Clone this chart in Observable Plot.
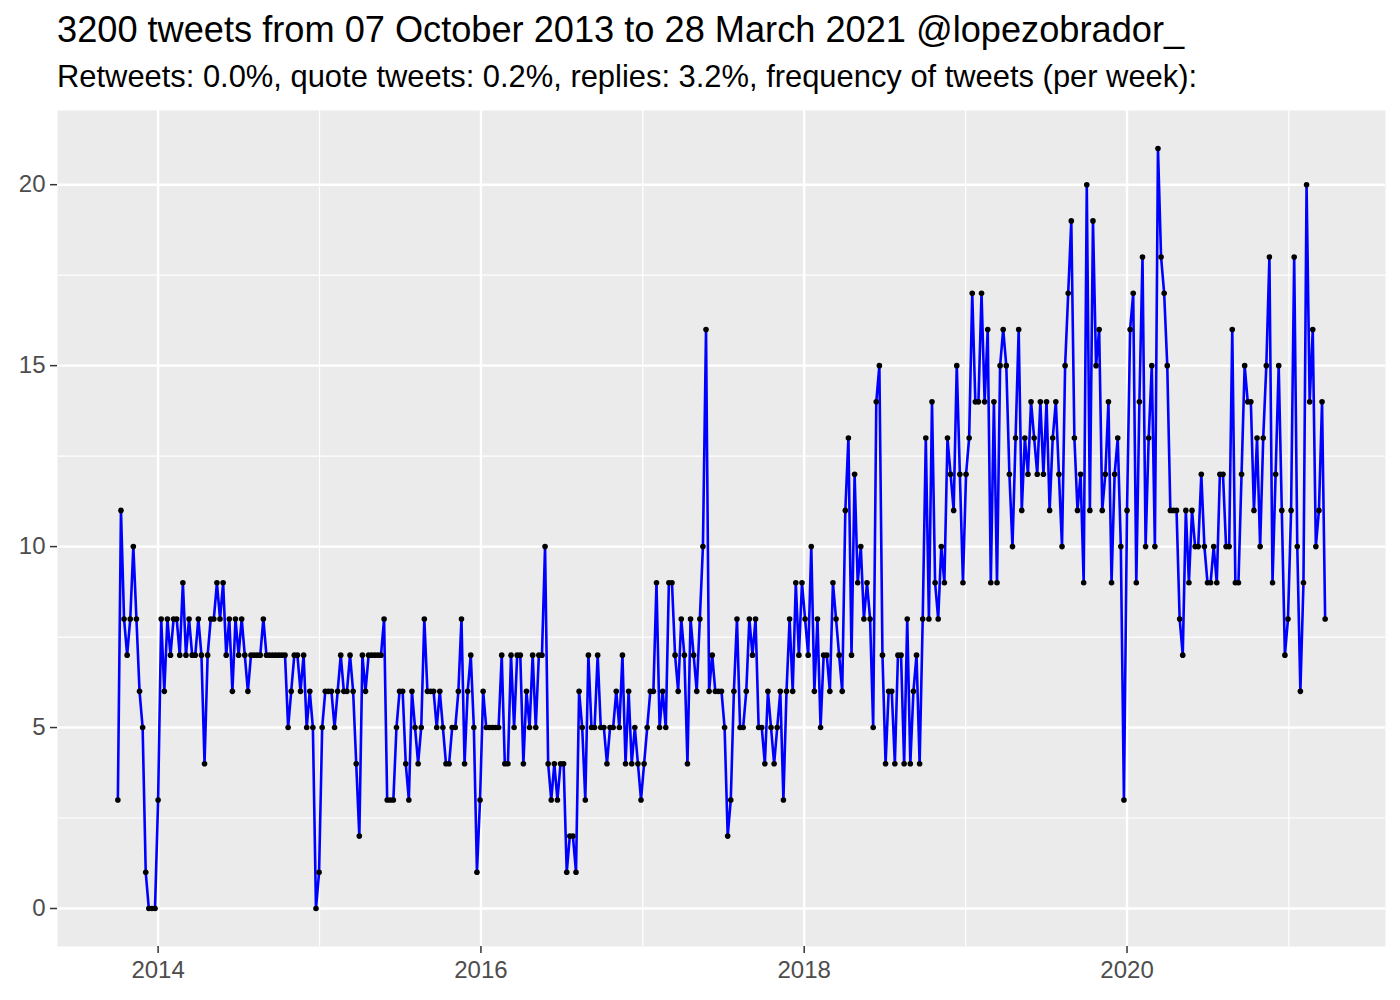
<!DOCTYPE html>
<html>
<head>
<meta charset="utf-8">
<script src="https://cdn.jsdelivr.net/npm/d3@7"></script>
<script src="https://cdn.jsdelivr.net/npm/@observablehq/plot@0.6"></script>
<style>
  body { margin: 0; background: #ffffff; font-family: "Liberation Sans", Arial, Helvetica, sans-serif; }
  #header { position: relative; width: 1400px; height: 100px; }
  #title { position: absolute; left: 57px; top: 12px; font-size: 36.2px; line-height: 1; white-space: nowrap; color: #000; }
  #subtitle { position: absolute; left: 57px; top: 62px; font-size: 30.9px; line-height: 1; white-space: nowrap; color: #000; }
  #chart svg { display: block; }
</style>
</head>
<body>
<div id="header">
  <div id="title">3200 tweets from 07 October 2013 to 28 March 2021 @lopezobrador_</div>
  <div id="subtitle">Retweets: 0.0%, quote tweets: 0.2%, replies: 3.2%, frequency of tweets (per week):</div>
</div>
<div id="chart"></div>
<script>
// First weekly bin and weekly tweet counts
const firstWeek = "2013-10-02";
const weeklyCounts = [
  3, 11, 8, 7, 8, 10, 8, 6, 5, 1, 0, 0, 0,
  3, 8, 6, 8, 7, 8, 8, 7, 9, 7, 8, 7, 7, 8, 7, 4, 7, 8,
  8, 9, 8, 9, 7, 8, 6, 8, 7, 8, 7, 6, 7, 7, 7, 7, 8, 7, 7, 7, 7, 7, 7, 7, 5, 6, 7, 7, 6, 7, 5, 6, 5,
  0, 1, 5, 6, 6, 6, 5, 6, 7, 6, 6, 7, 6, 4, 2, 7, 6, 7, 7, 7, 7, 7, 8, 3, 3, 3, 5, 6, 6, 4, 3, 6, 5,
  4, 5, 8, 6, 6, 6, 5, 6, 5, 4, 4, 5, 5, 6, 8, 4, 6, 7, 5, 1, 3, 6, 5, 5, 5, 5, 5, 7, 4, 4, 7, 5, 7,
  7, 4, 6, 5, 7, 5, 7, 7, 10, 4, 3, 4, 3, 4, 4, 1, 2, 2, 1, 6, 5, 3, 7, 5, 5, 7, 5, 5, 4, 5, 5, 6, 5,
  7, 4, 6, 4, 5, 4, 3, 4, 5, 6, 6, 9, 5, 6, 5, 9, 9, 7, 6, 8, 7, 4, 8, 7, 6, 8, 10, 16, 6, 7, 6, 6, 6,
  5, 2, 3, 6, 8, 5, 5, 6, 8, 7, 8, 5, 5, 4, 6, 5, 4, 5, 6, 3, 6, 8, 6, 9, 7, 9, 8, 7, 10, 6, 8, 5, 7,
  7, 6, 9, 8, 7, 6, 11, 13, 7, 12, 9, 10, 8, 9, 8, 5, 14, 15, 7, 4, 6, 6, 4, 7, 7, 4, 8, 4, 6, 7, 4, 8, 13,
  8, 14, 9, 8, 10, 9, 13, 12, 11, 15, 12, 9, 12, 13, 17, 14, 14, 17, 14, 16, 9, 14, 9, 15, 16, 15, 12, 10, 13, 16, 11, 13, 12,
  14, 13, 12, 14, 12, 14, 11, 13, 14, 12, 10, 15, 17, 19, 13, 11, 12, 9, 20, 11, 19, 15, 16, 11, 12, 14, 9, 12, 13, 10, 3, 11, 16,
  17, 9, 14, 18, 10, 13, 15, 10, 21, 18, 17, 15, 11, 11, 11, 8, 7, 11, 9, 11, 10, 10, 12, 10, 9, 9, 10, 9, 12, 12, 10, 10, 16,
  9, 9, 12, 15, 14, 14, 11, 13, 10, 13, 15, 18, 9, 12, 15, 11, 7, 8, 11, 18, 10, 6, 9, 20, 14, 16, 10, 11, 14, 8
];
const yMajorTicks = [0, 5, 10, 15, 20];
const yMinorTicks = [2.5, 7.5, 12.5, 17.5];
const xMajorYears = ["2014", "2016", "2018", "2020"];
const xMinorYears = ["2015", "2017", "2019", "2021"];

const start = d3.utcParse("%Y-%m-%d")(firstWeek);
const data = weeklyCounts.map((n, i) => ({ date: d3.utcDay.offset(start, 7 * i), n }));
const parseYear = d3.utcParse("%Y");
const xMajor = xMajorYears.map(parseYear);
const xMinor = xMinorYears.map(parseYear);

// ggplot-style 5% expansion
const [x0, x1] = d3.extent(data, d => d.date);
const span = x1 - x0;
const xDomain = [new Date(+x0 - 0.05 * span), new Date(+x1 + 0.05 * span)];
const [y0, y1] = d3.extent(data, d => d.n);
const ySpan = y1 - y0;
const yDomain = [y0 - 0.05 * ySpan, y1 + 0.05 * ySpan];

const chart = Plot.plot({
  width: 1400,
  height: 900,
  marginTop: 10,
  marginBottom: 54,
  marginLeft: 57,
  marginRight: 15,
  style: { fontFamily: '"Liberation Sans", Arial, Helvetica, sans-serif', background: "#ffffff" },
  x: { type: "utc", domain: xDomain },
  y: { domain: yDomain },
  marks: [
    Plot.frame({ fill: "#EBEBEB", stroke: "none" }),
    Plot.gridY({ ticks: yMinorTicks, stroke: "#ffffff", strokeOpacity: 1, strokeWidth: 1.2 }),
    Plot.gridX({ ticks: xMinor, stroke: "#ffffff", strokeOpacity: 1, strokeWidth: 1.2 }),
    Plot.gridY({ ticks: yMajorTicks, stroke: "#ffffff", strokeOpacity: 1, strokeWidth: 2.4 }),
    Plot.gridX({ ticks: xMajor, stroke: "#ffffff", strokeOpacity: 1, strokeWidth: 2.4 }),
    Plot.line(data, { x: "date", y: "n", stroke: "#0000FF", strokeWidth: 2.6 }),
    Plot.dot(data, { x: "date", y: "n", r: 2.8, fill: "#000000", stroke: "none" }),
    Plot.axisY({ ticks: yMajorTicks, tickSize: 7, tickPadding: 5, fontSize: 24, stroke: "#333333", fill: "#4D4D4D", strokeWidth: 1.5, label: null }),
    Plot.axisX({ ticks: xMajor, tickSize: 7, tickPadding: 7, fontSize: 24, stroke: "#333333", fill: "#4D4D4D", strokeWidth: 1.5, tickFormat: d3.utcFormat("%Y"), label: null })
  ]
});
document.getElementById("chart").appendChild(chart);
</script>
</body>
</html>
